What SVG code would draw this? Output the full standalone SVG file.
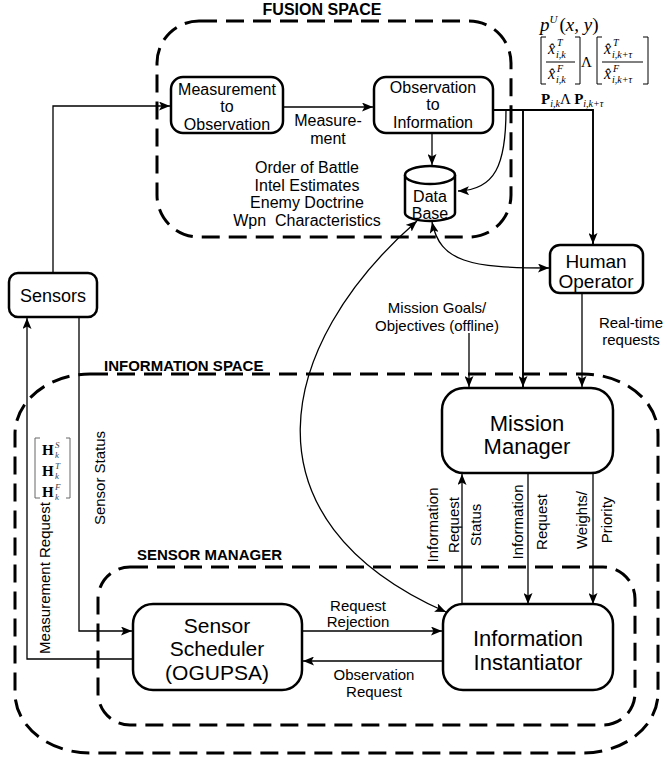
<svg xmlns="http://www.w3.org/2000/svg" width="667" height="759" viewBox="0 0 667 759">
  <style>
    .zone { fill: none; stroke: #000; stroke-width: 3; stroke-dasharray: 18 9; }
    .box { fill: #fff; stroke: #000; stroke-width: 2.5; }
    .conn { fill: none; stroke: #000; stroke-width: 1.3; }
    .thick { stroke-width: 1.9; }
    .t { font-family: "Liberation Sans", Arial, sans-serif; fill: #000; text-anchor: middle; }
    .lbl { font-family: "Liberation Sans", Arial, sans-serif; fill: #000; text-anchor: middle; font-size: 15px; }
    .zt { font-family: "Liberation Sans", Arial, sans-serif; font-weight: bold; fill: #000; }
    .m { font-family: "Liberation Serif", "Times New Roman", serif; fill: #000; }
    .it { font-style: italic; }
    .gr { fill: #444; }
    .br { fill: none; stroke: #000; stroke-width: 1; }
    .brg { fill: none; stroke: #666; stroke-width: 1; }
  </style>
  <defs>
    <marker id="arrow" viewBox="0 0 11 9" refX="11" refY="4.5" markerWidth="11" markerHeight="9" markerUnits="userSpaceOnUse" orient="auto-start-reverse">
      <path d="M0,0 L11,4.5 L0,9 L2.5,4.5 z" fill="#000"/>
    </marker>
  </defs>

  <!-- zones -->
  <g id="fusion-space">
    <rect class="zone" x="157" y="21" width="354" height="216" rx="42"/>
    <text class="zt" x="322" y="15" font-size="16" text-anchor="middle">FUSION SPACE</text>
  </g>
  <g id="information-space">
    <rect class="zone" x="15" y="374" width="643" height="379" rx="75" ry="60"/>
    <text class="zt" x="104" y="371" font-size="15">INFORMATION SPACE</text>
  </g>
  <g id="sensor-manager">
    <rect class="zone" x="98" y="567" width="537" height="158" rx="32"/>
    <text class="zt" x="137" y="560" font-size="15">SENSOR MANAGER</text>
  </g>

  <!-- connectors -->
  <g id="connectors">
    <polyline class="conn" points="53,273 53,106 170,106" marker-end="url(#arrow)"/>
    <line class="conn" x1="283" y1="107" x2="373" y2="107" marker-end="url(#arrow)"/>
    <line class="conn" x1="432" y1="133" x2="432" y2="165" marker-end="url(#arrow)"/>
    <polyline class="conn thick" points="493,110 593,110 593,244" marker-end="url(#arrow)"/>
    <line class="conn thick" x1="523" y1="110" x2="523" y2="387" marker-end="url(#arrow)"/>
    <path class="conn" d="M506,110 C506,165 495,190 458,191" marker-end="url(#arrow)"/>
    <path class="conn" d="M432,222 C440,262 470,268 549,268" marker-start="url(#arrow)" marker-end="url(#arrow)"/>
    <path class="conn" d="M417,221 C275,345 238,520 446,612" marker-start="url(#arrow)" marker-end="url(#arrow)"/>
    <line class="conn" x1="469" y1="333" x2="469" y2="387" marker-end="url(#arrow)"/>
    <line class="conn" x1="582" y1="293" x2="582" y2="387" marker-end="url(#arrow)"/>
    <line class="conn" x1="462" y1="605" x2="462" y2="474" marker-end="url(#arrow)"/>
    <line class="conn" x1="528" y1="473" x2="528" y2="604" marker-end="url(#arrow)"/>
    <line class="conn" x1="593" y1="473" x2="593" y2="604" marker-end="url(#arrow)"/>
    <line class="conn" x1="302" y1="631" x2="442" y2="631" marker-end="url(#arrow)"/>
    <line class="conn" x1="443" y1="661" x2="303" y2="661" marker-end="url(#arrow)"/>
    <polyline class="conn" points="133,659 27,659 27,318" marker-end="url(#arrow)"/>
    <polyline class="conn" points="79,317 79,631 132,631" marker-end="url(#arrow)"/>
  </g>

  <!-- connector labels -->
  <g id="labels">
    <text class="t" font-size="16" x="328" y="126">Measure-</text>
    <text class="t" font-size="16" x="328" y="144">ment</text>
    <text class="t" font-size="16" x="307" y="173">Order of Battle</text>
    <text class="t" font-size="16" x="307" y="191">Intel Estimates</text>
    <text class="t" font-size="16" x="307" y="208">Enemy Doctrine</text>
    <text class="t" font-size="16" x="307" y="226">Wpn&#160; Characteristics</text>
    <text class="lbl" x="437" y="313">Mission Goals/</text>
    <text class="lbl" x="437" y="331">Objectives (offline)</text>
    <text class="lbl" x="631" y="328">Real-time</text>
    <text class="lbl" x="631" y="345">requests</text>
    <text class="lbl" x="358" y="611">Request</text>
    <text class="lbl" x="358" y="627">Rejection</text>
    <text class="lbl" x="374" y="680">Observation</text>
    <text class="lbl" x="374" y="697">Request</text>
    <text class="lbl" transform="translate(50,578) rotate(-90)">Measurement Request</text>
    <text class="lbl" transform="translate(105,478) rotate(-90)">Sensor Status</text>
    <text class="lbl" font-size="14" transform="translate(438,525) rotate(-90)">Information</text>
    <text class="lbl" font-size="14" transform="translate(459,525) rotate(-90)">Request</text>
    <text class="lbl" font-size="14" transform="translate(481,525) rotate(-90)">Status</text>
    <text class="lbl" font-size="14" transform="translate(523,522) rotate(-90)">Information</text>
    <text class="lbl" font-size="14" transform="translate(547,522) rotate(-90)">Request</text>
    <text class="lbl" font-size="14" transform="translate(587,520) rotate(-90)">Weights/</text>
    <text class="lbl" font-size="14" transform="translate(612,520) rotate(-90)">Priority</text>

    <!-- measurement matrix -->
    <polyline class="brg" points="40,438 35,438 35,498 40,498"/>
    <polyline class="brg" points="66,438 70,438 70,498 66,498"/>
    <text class="m" font-size="15" font-weight="bold" x="42" y="455">H</text>
    <text class="m it gr" font-size="9" x="55" y="448">S</text>
    <text class="m it gr" font-size="9" x="55" y="458">k</text>
    <text class="m" font-size="15" font-weight="bold" x="42" y="476">H</text>
    <text class="m it gr" font-size="9" x="55" y="469">T</text>
    <text class="m it gr" font-size="9" x="55" y="479">k</text>
    <text class="m" font-size="15" font-weight="bold" x="42" y="497">H</text>
    <text class="m it gr" font-size="9" x="55" y="490">F</text>
    <text class="m it gr" font-size="9" x="55" y="500">k</text>

    <!-- fused state annotations -->
    <text class="m" font-size="19" x="540" y="31"><tspan class="it">p</tspan><tspan class="it" font-size="11" dy="-8">U</tspan><tspan dy="8" dx="2">(</tspan><tspan class="it">x</tspan>, <tspan class="it">y</tspan>)</text>
    <polyline class="br" points="546,37 541,37 541,84 546,84"/>
    <polyline class="br" points="575,37 580,37 580,84 575,84"/>
    <line class="br" x1="546" y1="62" x2="575" y2="62"/>
    <text class="m it" font-size="16" x="548" y="54">x&#770;</text>
    <text class="m it" font-size="10" x="557" y="46">T</text>
    <text class="m it" font-size="10" x="556" y="58">i,k</text>
    <text class="m it" font-size="16" x="548" y="79">x&#770;</text>
    <text class="m it" font-size="10" x="557" y="72">F</text>
    <text class="m it" font-size="10" x="556" y="83">i,k</text>
    <text class="m" font-size="15" x="581" y="67">Λ</text>
    <polyline class="br" points="602,37 597,37 597,84 602,84"/>
    <polyline class="br" points="643,37 648,37 648,84 643,84"/>
    <line class="br" x1="602" y1="62" x2="643" y2="62"/>
    <text class="m it" font-size="16" x="604" y="54">x&#770;</text>
    <text class="m it" font-size="10" x="613" y="46">T</text>
    <text class="m it" font-size="10" x="612" y="58">i,k+τ</text>
    <text class="m it" font-size="16" x="604" y="79">x&#770;</text>
    <text class="m it" font-size="10" x="613" y="72">F</text>
    <text class="m it" font-size="10" x="612" y="83">i,k+τ</text>
    <text class="m" font-size="15" x="541" y="104"><tspan font-weight="bold">P</tspan><tspan class="it" font-size="10" dy="3">i,k</tspan><tspan dy="-3">Λ </tspan><tspan font-weight="bold">P</tspan><tspan class="it" font-size="10" dy="3">i,k+τ</tspan></text>
  </g>

  <!-- nodes -->
  <g id="sensors">
    <rect class="box" x="9" y="273" width="88" height="44" rx="9"/>
    <text class="t" font-size="18" x="53" y="302">Sensors</text>
  </g>
  <g id="measurement-to-observation">
    <rect class="box" x="171" y="77" width="112" height="56" rx="12"/>
    <text class="t" font-size="16" x="227" y="95">Measurement</text>
    <text class="t" font-size="16" x="227" y="112">to</text>
    <text class="t" font-size="16" x="227" y="130">Observation</text>
  </g>
  <g id="observation-to-information">
    <rect class="box" x="374" y="77" width="119" height="56" rx="12"/>
    <text class="t" font-size="16" x="433" y="93">Observation</text>
    <text class="t" font-size="16" x="433" y="110">to</text>
    <text class="t" font-size="16" x="433" y="128">Information</text>
  </g>
  <g id="data-base">
    <path class="box" d="M405,175 L405,213 A25,8 0 0 0 455,213 L455,175"/>
    <ellipse class="box" cx="430" cy="175" rx="25" ry="9"/>
    <text class="t" font-size="16" x="430" y="202">Data</text>
    <text class="t" font-size="16" x="430" y="219">Base</text>
  </g>
  <g id="human-operator">
    <rect class="box" x="550" y="245" width="93" height="48" rx="10"/>
    <text class="t" font-size="19" x="596" y="268">Human</text>
    <text class="t" font-size="19" x="596" y="288">Operator</text>
  </g>
  <g id="mission-manager">
    <rect class="box" x="442" y="388" width="171" height="85" rx="22"/>
    <text class="t" font-size="22" x="527" y="431">Mission</text>
    <text class="t" font-size="22" x="527" y="454">Manager</text>
  </g>
  <g id="sensor-scheduler">
    <rect class="box" x="133" y="604" width="169" height="86" rx="20"/>
    <text class="t" font-size="21" x="217" y="633">Sensor</text>
    <text class="t" font-size="21" x="217" y="656">Scheduler</text>
    <text class="t" font-size="21" x="217" y="680">(OGUPSA)</text>
  </g>
  <g id="information-instantiator">
    <rect class="box" x="443" y="604" width="170" height="86" rx="20"/>
    <text class="t" font-size="22" x="528" y="646">Information</text>
    <text class="t" font-size="22" x="528" y="670">Instantiator</text>
  </g>
</svg>
